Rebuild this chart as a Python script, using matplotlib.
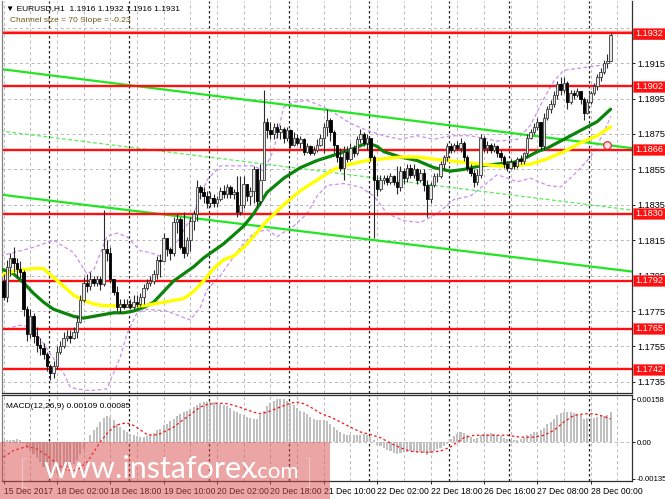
import matplotlib
matplotlib.use("Agg")
import matplotlib.pyplot as plt
import matplotlib.transforms as mtransforms
from matplotlib.patches import Rectangle
import numpy as np

W, H = 665, 499

# ---- EURUSD H1 candles (open of a bar = close of the bar before) ----
first_open = 1.1792
close = [1.1783, 1.1800, 1.1805, 1.1802, 1.1799, 1.1797, 1.1776, 1.1762, 1.1772, 1.1761,
         1.1756, 1.1754, 1.1751, 1.1744, 1.1740, 1.1744, 1.1752, 1.1755, 1.1760, 1.1761,
         1.1760, 1.1763, 1.1769, 1.1781, 1.1791, 1.1789, 1.1793, 1.1791, 1.1793, 1.1790,
         1.1810, 1.1808, 1.1793, 1.1786, 1.1777, 1.1779, 1.1777, 1.1779, 1.1777, 1.1780,
         1.1779, 1.1783, 1.1788, 1.1791, 1.1792, 1.1796, 1.1804, 1.1803, 1.1816, 1.1810,
         1.1808, 1.1825, 1.1827, 1.1811, 1.1808, 1.1815, 1.1826, 1.1830, 1.1845, 1.1842,
         1.1840, 1.1836, 1.1839, 1.1836, 1.1838, 1.1843, 1.1841, 1.1845, 1.1841, 1.1842,
         1.1831, 1.1835, 1.1847, 1.1840, 1.1843, 1.1855, 1.1837, 1.1849, 1.1882, 1.1877,
         1.1875, 1.1879, 1.1876, 1.1878, 1.1873, 1.1877, 1.1869, 1.1873, 1.1870, 1.1872,
         1.1865, 1.1868, 1.1864, 1.1866, 1.1869, 1.1873, 1.1879, 1.1883, 1.1876, 1.1869,
         1.1862, 1.1856, 1.1865, 1.1861, 1.1867, 1.1864, 1.1872, 1.1875, 1.1870, 1.1873,
         1.1862, 1.1849, 1.1844, 1.1849, 1.1850, 1.1848, 1.1851, 1.1848, 1.1845, 1.1854,
         1.1850, 1.1856, 1.1852, 1.1855, 1.1849, 1.1853, 1.1846, 1.1838, 1.1846, 1.1851,
         1.1851, 1.1858, 1.1862, 1.1868, 1.1866, 1.1869, 1.1867, 1.1870, 1.1862, 1.1856,
         1.1853, 1.1848, 1.1852, 1.1873, 1.1867, 1.1869, 1.1866, 1.1868, 1.1864, 1.1862,
         1.1858, 1.1856, 1.1859, 1.1857, 1.1861, 1.1860, 1.1864, 1.1873, 1.1876, 1.1879,
         1.1882, 1.1868, 1.1884, 1.1889, 1.1892, 1.1897, 1.1903, 1.1900, 1.1904, 1.1893,
         1.1898, 1.1897, 1.1899, 1.1895, 1.1887, 1.1893, 1.1898, 1.1902, 1.1907, 1.1910,
         1.1915, 1.1916, 1.1931]
high = [1.1796, 1.1804, 1.1808, 1.1811, 1.1805, 1.1803, 1.1798, 1.1778, 1.1776, 1.1774,
        1.1766, 1.1760, 1.1757, 1.1752, 1.1745, 1.1747, 1.1755, 1.1758, 1.1763, 1.1764,
        1.1764, 1.1766, 1.1772, 1.1784, 1.1794, 1.1796, 1.1797, 1.1795, 1.1795, 1.1795,
        1.1832, 1.1815, 1.1811, 1.1793, 1.1789, 1.1782, 1.1782, 1.1782, 1.1782, 1.1784,
        1.1784, 1.1785, 1.1790, 1.1793, 1.1795, 1.1798, 1.1806, 1.1807, 1.1819, 1.1815,
        1.1811, 1.1828, 1.1830, 1.1828, 1.1831, 1.1817, 1.1828, 1.1832, 1.1849, 1.1846,
        1.1845, 1.1843, 1.1842, 1.1841, 1.1840, 1.1845, 1.1846, 1.1847, 1.1846, 1.1844,
        1.1851, 1.1851, 1.1851, 1.1847, 1.1845, 1.1857, 1.1855, 1.1858, 1.1900, 1.1884,
        1.1882, 1.1881, 1.1881, 1.1880, 1.1879, 1.1879, 1.1878, 1.1876, 1.1875, 1.1874,
        1.1873, 1.1870, 1.1869, 1.1868, 1.1872, 1.1875, 1.1881, 1.1889, 1.1884, 1.1877,
        1.1869, 1.1867, 1.1868, 1.1868, 1.1870, 1.1869, 1.1874, 1.1878, 1.1876, 1.1875,
        1.1873, 1.1863, 1.1852, 1.1852, 1.1852, 1.1852, 1.1853, 1.1852, 1.1857, 1.1857,
        1.1856, 1.1858, 1.1858, 1.1858, 1.1856, 1.1855, 1.1855, 1.1849, 1.1848, 1.1853,
        1.1853, 1.1860, 1.1863, 1.1870, 1.1870, 1.1870, 1.1871, 1.1873, 1.1871, 1.1863,
        1.1858, 1.1855, 1.1855, 1.1875, 1.1874, 1.1871, 1.1870, 1.1870, 1.1869, 1.1866,
        1.1863, 1.1860, 1.1861, 1.1860, 1.1862, 1.1863, 1.1865, 1.1875, 1.1878, 1.1881,
        1.1884, 1.1882, 1.1887, 1.1891, 1.1894, 1.1899, 1.1905, 1.1907, 1.1907, 1.1905,
        1.1900, 1.1900, 1.1901, 1.1899, 1.1896, 1.1895, 1.1899, 1.1904, 1.1909, 1.1912,
        1.1917, 1.1920, 1.1932]
low = [1.1781, 1.1780, 1.1795, 1.1797, 1.1794, 1.1793, 1.1772, 1.1758, 1.1760, 1.1757,
       1.1752, 1.1750, 1.1748, 1.1741, 1.1736, 1.1737, 1.1742, 1.1751, 1.1754, 1.1758,
       1.1757, 1.1759, 1.1760, 1.1768, 1.1780, 1.1786, 1.1787, 1.1789, 1.1789, 1.1787,
       1.1789, 1.1803, 1.1791, 1.1784, 1.1775, 1.1774, 1.1776, 1.1777, 1.1776, 1.1776,
       1.1777, 1.1778, 1.1779, 1.1787, 1.1789, 1.1790, 1.1793, 1.1794, 1.1803, 1.1806,
       1.1804, 1.1806, 1.1819, 1.1810, 1.1805, 1.1806, 1.1809, 1.1821, 1.1826, 1.1838,
       1.1836, 1.1833, 1.1834, 1.1834, 1.1834, 1.1837, 1.1839, 1.1839, 1.1839, 1.1838,
       1.1828, 1.1829, 1.1833, 1.1837, 1.1835, 1.1836, 1.1834, 1.1835, 1.1849, 1.1873,
       1.1872, 1.1872, 1.1873, 1.1872, 1.1870, 1.1871, 1.1867, 1.1868, 1.1869, 1.1867,
       1.1863, 1.1864, 1.1863, 1.1863, 1.1865, 1.1868, 1.1864, 1.1874, 1.1871, 1.1864,
       1.1859, 1.1854, 1.1849, 1.1859, 1.1860, 1.1862, 1.1863, 1.1870, 1.1868, 1.1866,
       1.1860, 1.1816, 1.1840, 1.1843, 1.1847, 1.1846, 1.1847, 1.1846, 1.1841, 1.1843,
       1.1847, 1.1848, 1.1850, 1.1850, 1.1847, 1.1848, 1.1843, 1.1828, 1.1836, 1.1845,
       1.1848, 1.1850, 1.1855, 1.1860, 1.1864, 1.1865, 1.1866, 1.1865, 1.1860, 1.1854,
       1.1851, 1.1845, 1.1846, 1.1850, 1.1865, 1.1864, 1.1864, 1.1865, 1.1862, 1.1860,
       1.1856, 1.1854, 1.1855, 1.1855, 1.1856, 1.1858, 1.1858, 1.1862, 1.1872, 1.1875,
       1.1877, 1.1866, 1.1866, 1.1883, 1.1887, 1.1890, 1.1895, 1.1897, 1.1898, 1.1889,
       1.1892, 1.1895, 1.1896, 1.1892, 1.1883, 1.1886, 1.1892, 1.1897, 1.1900, 1.1905,
       1.1909, 1.1912, 1.1916]

# ---- moving averages, read every few bars ----
ma_green_bar = [-1, 3, 6, 9, 12, 15, 18, 21, 24, 27, 30, 33, 36, 39, 42, 45, 48, 51, 54, 57,
                60, 63, 66, 69, 72, 75, 79, 84, 89, 94, 99, 104, 109, 112, 114, 119, 124, 129,
                134, 138, 143, 148, 153, 156, 160, 163, 168, 173, 178, 182]
ma_green = [1.1799, 1.1796, 1.1791, 1.1785, 1.1780, 1.1776, 1.1774, 1.1772, 1.1771, 1.1772,
            1.1773, 1.1774, 1.1774, 1.1775, 1.1777, 1.1780, 1.1786, 1.1792, 1.1796, 1.1800,
            1.1805, 1.1809, 1.1813, 1.1818, 1.1823, 1.1830, 1.1842, 1.1850, 1.1856, 1.1860,
            1.1863, 1.1866, 1.1870, 1.1868, 1.1865, 1.1862, 1.1860, 1.1856, 1.1854, 1.1855,
            1.1857, 1.1858, 1.1859, 1.1861, 1.1865, 1.1867, 1.1872, 1.1877, 1.1882, 1.1889]
ma_yellow_bar = [-1, 4, 9, 12, 15, 18, 21, 24, 27, 30, 36, 42, 45, 48, 51, 54, 57, 60, 63, 66,
                 69, 72, 74, 79, 84, 89, 94, 99, 104, 109, 114, 119, 124, 128, 133, 138, 143,
                 148, 153, 158, 163, 168, 173, 178, 182]
ma_yellow = [1.1795, 1.1798, 1.1799, 1.1799, 1.1794, 1.1789, 1.1784, 1.1781, 1.1779, 1.1778,
             1.1778, 1.1778, 1.1779, 1.1780, 1.1781, 1.1782, 1.1786, 1.1792, 1.1799, 1.1804,
             1.1806, 1.1811, 1.1815, 1.1826, 1.1835, 1.1843, 1.1849, 1.1855, 1.1858, 1.1860,
             1.1861, 1.1862, 1.1862, 1.1861, 1.1860, 1.1859, 1.1858, 1.1857, 1.1857, 1.1858,
             1.1861, 1.1865, 1.1870, 1.1874, 1.1879]

# ---- violet bands ----
band_up_bar = [-1, 9, 15, 21, 25, 27, 31, 34, 37, 41, 44, 47, 51, 57, 61, 65, 69, 75, 78, 81,
               84, 87, 91, 95, 99, 104, 109, 114, 119, 124, 129, 134, 140, 148, 154, 158, 162,
               165, 168, 172, 176, 180, 182]
band_up = [1.1806, 1.1811, 1.1815, 1.1808, 1.1796, 1.1798, 1.1817, 1.1819, 1.1817, 1.1809,
           1.1808, 1.1806, 1.1811, 1.1830, 1.1849, 1.1857, 1.1857, 1.1857, 1.1854, 1.1866,
           1.1890, 1.1893, 1.1894, 1.1891, 1.1887, 1.1881, 1.1877, 1.1874, 1.1872, 1.1874,
           1.1872, 1.1874, 1.1874, 1.1871, 1.1872, 1.1880, 1.1895, 1.1905, 1.1911, 1.1912,
           1.1913, 1.1914, 1.1916]
band_dn_bar = [-1, 5, 8, 10, 14, 18, 20, 22, 26, 31, 33, 35, 37, 40, 43, 49, 53, 56, 59, 61,
               65, 71, 75, 79, 82, 87, 91, 94, 97, 102, 107, 111, 115, 120, 125, 130, 135, 140,
               148, 154, 158, 163, 167, 171, 176, 180, 182]
band_dn = [1.1764, 1.1767, 1.1766, 1.1762, 1.1751, 1.1740, 1.1732, 1.1731, 1.1730, 1.1731,
           1.1740, 1.1749, 1.1762, 1.1774, 1.1776, 1.1775, 1.1772, 1.1770, 1.1777, 1.1787,
           1.1795, 1.1811, 1.1819, 1.1821, 1.1817, 1.1823, 1.1830, 1.1840, 1.1846, 1.1847,
           1.1845, 1.1840, 1.1830, 1.1826, 1.1825, 1.1830, 1.1838, 1.1840, 1.1852, 1.1848,
           1.1850, 1.1846, 1.1845, 1.1852, 1.1862, 1.1876, 1.1885]

# ---- trend channel (bar, price) end points ----
chan_upper = [(-1.05, 1.19117), (188.4, 1.18670)]
chan_mid = [(-1.05, 1.18767), (188.4, 1.18320)]
chan_lower = [(-1.05, 1.18408), (188.4, 1.17973)]

levels = [1.1932, 1.1902, 1.1866, 1.1830, 1.1792, 1.1765, 1.1742]
bid = 1.1931
price_ticks = [1.1735, 1.1755, 1.1775, 1.1795, 1.1815, 1.1835, 1.1855, 1.1875, 1.1895, 1.1915]
grid_prices = price_ticks + [1.1935]

# ---- MACD (units of 0.00001) ----
macd_hist = [5, 6, 8, 9, 10, 8,
             -5, -20, -30, -45, -60, -75, -90, -100, -110, -115, -112, -108, -100, -95,
             -88, -80, -65, -45, -25, -5,
             25, 43, 55, 74, 89, 94, 92, 80, 67, 55, 45, 37, 31, 25, 21, 18, 18, 21, 27, 33,
             43, 49, 61, 67, 77, 86, 94, 104, 110, 116, 123, 129, 138, 143, 146, 147, 147, 146,
             143, 141, 138, 134, 126, 116, 109, 104, 98, 92, 88, 86, 83, 98, 116, 131, 143, 151,
             157, 159, 157, 151, 143, 135, 126, 116, 109, 102, 92, 86, 82, 80, 80, 77,
             67, 55, 43, 37, 31, 27, 25, 25, 25, 27, 28, 25, 18, 6, -9, -15, -22, -28, -34, -40,
             -43, -40, -37, -37, -34, -36, -38, -37, -40, -49, -40, -33, -27, -21, -13, -6, 11,
             21, 31, 36, 33, 27, 18, 11, 16, 25, 28, 31, 33, 31, 26, 21, 16, 11, 9, 9, 9, 11, 16,
             25, 31, 37, 37, 43, 53, 65, 74, 86, 98, 108, 110, 110, 109, 107, 104, 98, 86, 89,
             89, 89, 92, 94, 94, 98, 109]
sig_bar = [0, 3, 7, 10, 13, 16, 19, 22, 25, 27, 29, 31, 33, 35, 37, 39, 41, 43, 45, 47, 49, 51,
           53, 55, 57, 59, 61, 64, 67, 69, 72, 75, 77, 79, 81, 83, 86, 88, 90, 92, 95, 98, 101,
           104, 107, 110, 113, 116, 119, 122, 125, 128, 131, 134, 136, 138, 141, 145, 151, 155,
           159, 162, 165, 168, 171, 174, 177, 180, 182]
sig_val = [-55, -31, -16, -25, -49, -80, -104, -104, -74, -37, 0, 31, 55, 67, 70, 61, 45, 28, 25,
           31, 43, 55, 74, 92, 110, 129, 138, 143, 141, 135, 123, 110, 104, 110, 119, 129, 143,
           147, 141, 129, 106, 92, 74, 55, 37, 28, 16, -4, -21, -34, -37, -37, -33, -18, 0, 16,
           25, 25, 25, 18, 18, 25, 43, 74, 98, 104, 104, 94, 85]

xlabels = ["15 Dec 2017", "18 Dec 02:00", "18 Dec 18:00", "19 Dec 10:00", "20 Dec 02:00",
           "20 Dec 18:00", "21 Dec 10:00", "22 Dec 02:00", "22 Dec 18:00", "26 Dec 16:00",
           "27 Dec 08:00", "28 Dec 00:00"]
day_start_bar = [14, 38, 62, 86, 110, 134, 152, 176]

# ---- pixel geometry of the MT4 window ----
def fig_rect(x0, y0, x1, y1):
    return [x0 / W, 1 - y1 / H, (x1 - x0) / W, (y1 - y0) / H]

XLIM = (-0.45, 188.4)
PRICE_LIM = (1.17287, 1.19501)
MACD_LIM = (-143, 173)
PX_PER_PRICE = 17705.0

FONT = ['Liberation Sans Narrow', 'Liberation Sans', 'DejaVu Sans']
plt.rcParams['font.family'] = FONT
plt.rcParams['axes.unicode_minus'] = False
FS = 6.6      # price scale
FS_TXT = 6.0  # header / x labels

fig = plt.figure(figsize=(W / 100, H / 100), dpi=100)
fig.patch.set_facecolor('white')
ax = fig.add_axes(fig_rect(2, 1, 632, 393))
am = fig.add_axes(fig_rect(2, 395, 632, 481))

for a in (ax, am):
    a.set_xlim(*XLIM)
    a.set_facecolor('white')
    for s in a.spines.values():
        s.set_color('#303030')
        s.set_linewidth(0.9)
    a.spines['top'].set_visible(False)
    a.spines['left'].set_color('#808080')
    a.yaxis.tick_right()
    a.tick_params(axis='y', length=2.5, width=0.6, pad=1.5, labelsize=FS, colors='black')
    # vertical grid every 8 bars
    for g in range(0, 190, 8):
        a.axvline(g, color='#b8b8b8', lw=0.7, ls=(0, (3, 3)), zorder=0)
    for d in day_start_bar:
        a.axvline(d - 0.45, color='#202020', lw=0.9, ls=(0, (2, 2)), zorder=0.5)
am.spines['top'].set_visible(True)

ax.set_ylim(*PRICE_LIM)
ax.set_yticks(price_ticks)
ax.set_yticklabels([f"{t:.4f}" for t in price_ticks])
ax.set_xticks([])
for t in grid_prices:
    ax.axhline(t, color='#b8b8b8', lw=0.7, ls=(0, (3, 3)), zorder=0)

# violet bands
ax.plot(band_up_bar, band_up, color='#c890f0', lw=0.9, ls=(0, (3, 2)), zorder=1)
ax.plot(band_dn_bar, band_dn, color='#c890f0', lw=0.9, ls=(0, (3, 2)), zorder=1)

# channel
for pts, kw in ((chan_upper, dict(color='#22e622', lw=1.6)),
                (chan_lower, dict(color='#22e622', lw=1.6)),
                (chan_mid, dict(color='#55ee55', lw=0.9, ls=(0, (3, 2))))):
    ax.plot([p[0] for p in pts], [p[1] for p in pts], zorder=2, **kw)

# support / resistance levels
ax.axhline(bid + 0.00023, color='#f4a8a0', lw=1.0, zorder=2)
for lv in levels:
    ax.axhline(lv, color='#ff1010', lw=1.7, zorder=2)

# moving averages
ax.plot(ma_green_bar, ma_green, color='#0a840a', lw=2.3, zorder=3, solid_capstyle='round')
ax.plot(ma_yellow_bar, ma_yellow, color='#ffff00', lw=2.4, zorder=3, solid_capstyle='round')

# candles
n = len(close)
x = np.arange(n)
opn = np.array([first_open] + close[:-1])
cls = np.array(close)
up = cls >= opn
ax.vlines(x, low, high, color='#2a2a2a', lw=0.8, zorder=4)
body_lo = np.minimum(opn, cls)
body_h = np.maximum(np.abs(cls - opn), 0.00004)
ax.bar(x[up], body_h[up], bottom=body_lo[up], width=0.72, color='#e6e6e6',
       edgecolor='#3a3a3a', linewidth=0.6, zorder=5)
ax.bar(x[~up], body_h[~up], bottom=body_lo[~up], width=0.72, color='black',
       edgecolor='black', linewidth=0.6, zorder=5)

# little alert circle on the channel
ax.plot([180.8], [1.18687], marker='o', ms=5.5, mfc='#ffe0e0', mec='#e03030', mew=0.9, zorder=6)

# price labels on the right scale
half = 5.5 / PX_PER_PRICE
blend = mtransforms.blended_transform_factory(ax.transAxes, ax.transData)
x0 = 1.0016
wbox = 33 / 630
ax.add_patch(Rectangle((x0, bid - half), wbox, 2 * half, transform=blend, clip_on=False,
                       facecolor='black', edgecolor='none', zorder=8))
for lv in levels:
    ax.add_patch(Rectangle((x0, lv - half), wbox, 2 * half, transform=blend, clip_on=False,
                           facecolor='#ff1010', edgecolor='#ff6060', lw=0.5, zorder=9))
    ax.text(x0 + wbox / 2, lv, f"{lv:.4f}", transform=blend, ha='center', va='center',
            color='white', fontsize=FS, zorder=10, clip_on=False)

# header texts
ax.text(0.006, 0.981, "\u25bc EURUSD,H1  1.1916 1.1932 1.1916 1.1931", transform=ax.transAxes,
        fontsize=FS_TXT, va='center', ha='left', color='black', zorder=10)
ax.text(0.013, 0.951, "Channel size = 70 Slope = -0.23", transform=ax.transAxes,
        fontsize=FS_TXT, va='center', ha='left', color='#6e5a1a', zorder=10)

# MACD panel
am.set_ylim(*MACD_LIM)
am.bar(np.arange(len(macd_hist)), macd_hist, width=0.62, color='#c0c0c0', zorder=2)
am.plot(sig_bar, sig_val, color='#ff1010', lw=0.9, ls=(0, (2, 2)), zorder=3)
am.axhline(0, color='#b8b8b8', lw=0.7, ls=(0, (3, 3)), zorder=1)
am.set_yticks([158, 0, -135])
am.set_yticklabels(["0.00158", "0.00", "-0.00135"])
am.tick_params(axis='y', labelsize=5.6, pad=1)
am.text(0.006, 0.87, "MACD(12,26,9) 0.00109 0.00085", transform=am.transAxes,
        fontsize=FS_TXT, va='center', ha='left', zorder=10)
tick_pos = list(range(0, 16 * len(xlabels), 16))
am.set_xticks(tick_pos)
am.set_xticklabels(xlabels, ha='left', fontsize=FS_TXT + 0.2)
am.tick_params(axis='x', length=2.5, width=0.6, pad=2)

# watermark band
fig.patches.append(Rectangle((0, 0), 330 / W, 57 / H, transform=fig.transFigure,
                             facecolor=(0.85, 0.3, 0.3), alpha=0.5, edgecolor='none', zorder=20))
wm = dict(color='white', zorder=21, va='baseline', family=['Lato', 'DejaVu Sans'])
fig.text(18 / W, 1 - 484 / H, "[", fontsize=24, weight='light', **wm)
fig.text(44 / W, 1 - 478 / H, "www.instaforex", fontsize=22, **wm)
fig.text(253 / W, 1 - 478 / H, ".com", fontsize=16, **wm)
fig.text(304 / W, 1 - 484 / H, "]", fontsize=24, weight='light', **wm)

fig.savefig("out.png", dpi=100)
